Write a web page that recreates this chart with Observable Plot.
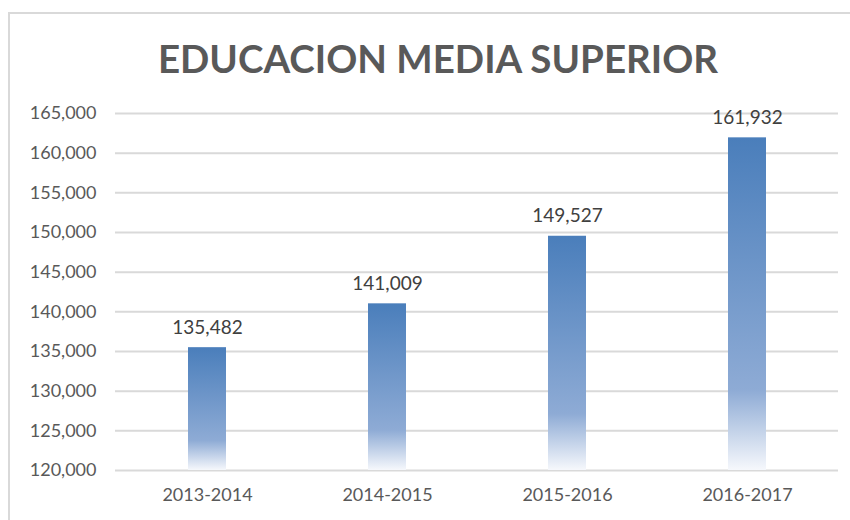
<!DOCTYPE html>
<html>
<head>
<meta charset="utf-8">
<script src="https://cdn.jsdelivr.net/npm/d3@7"></script>
<script src="https://cdn.jsdelivr.net/npm/@observablehq/plot@0.6"></script>
<style>
  html, body { margin: 0; padding: 0; background: #fff; }
  #wrap { position: relative; width: 850px; height: 520px; overflow: hidden; }
  #frame { position: absolute; left: 8px; top: 12px; width: 900px; height: 600px;
           border-left: 2px solid #d9d9d9; border-top: 2px solid #d9d9d9; }
  #title { position: absolute; left: 8px; width: 860px; top: 34px; text-align: center;
           font-family: Lato, sans-serif; font-weight: bold; font-size: 38.5px; color: #595959;
           line-height: 48px; }
  #chart { position: absolute; left: 0; top: 0; }
</style>
</head>
<body>
<div id="wrap">
  <div id="frame"></div>
  <div id="title">EDUCACION MEDIA SUPERIOR</div>
  <div id="chart"></div>
</div>
<script>
const periods = ["2013-2014", "2014-2015", "2015-2016", "2016-2017"];
const students = [135482, 141009, 149527, 161932];
const yTicks = [120000, 125000, 130000, 135000, 140000, 145000, 150000, 155000, 160000, 165000];

const data = periods.map((p, i) => ({period: p, value: students[i]}));
const fmt = d3.format(",");

const gradientDefs = () => {
  const g = d3.create("svg:g");
  const lg = g.append("defs").append("linearGradient")
    .attr("id", "barGrad").attr("x1", 0).attr("y1", 0).attr("x2", 0).attr("y2", 1);
  lg.append("stop").attr("offset", "0%").attr("stop-color", "#4a7ebb");
  lg.append("stop").attr("offset", "76%").attr("stop-color", "#8eabd5");
  lg.append("stop").attr("offset", "100%").attr("stop-color", "#f6f8fc");
  return g.node();
};

const chart = Plot.plot({
  width: 850,
  height: 520,
  marginTop: 113,
  marginBottom: 50,
  marginLeft: 115,
  marginRight: 12,
  style: {fontFamily: "Lato, sans-serif", background: "transparent"},
  x: {domain: periods, paddingInner: 0.79, paddingOuter: 0.395, label: null, tickSize: 0, tickPadding: 18},
  y: {domain: [120000, 165000], label: null, tickSize: 0, tickPadding: 19, ticks: yTicks, tickFormat: fmt},
  marks: [
    gradientDefs,
    Plot.ruleY(yTicks, {stroke: "#d9d9d9", strokeWidth: 2}),
    Plot.barY(data, {x: "period", y1: 120000, y2: "value", fill: "url(#barGrad)"}),
    Plot.text(data, {x: "period", y: "value", text: d => fmt(d.value), lineAnchor: "bottom", dy: -14,
                     fill: "#404040", fontSize: 19}),
    Plot.axisY({ticks: yTicks, tickFormat: fmt, tickSize: 0, tickPadding: 19, fontSize: 18, fill: "#595959"}),
    Plot.axisX({tickSize: 0, tickPadding: 18, fontSize: 18, fill: "#595959"})
  ]
});
document.getElementById("chart").appendChild(chart);
</script>
</body>
</html>
